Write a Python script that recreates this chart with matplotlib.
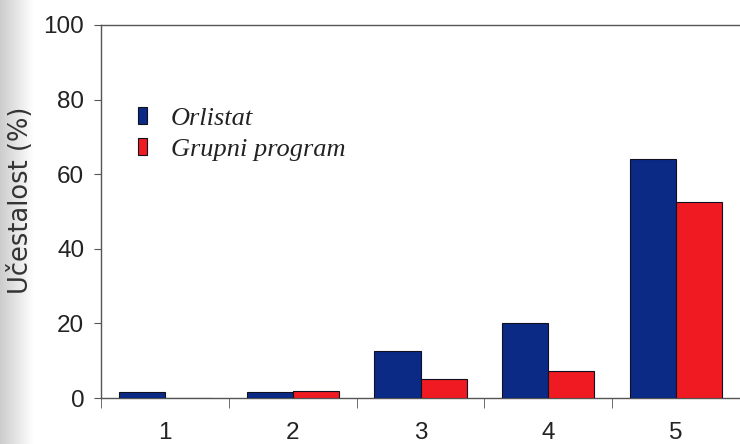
import numpy as np
import matplotlib
matplotlib.use('Agg')
import matplotlib.pyplot as plt

# data
categories = ['1', '2', '3', '4', '5']
orlistat = [1.5, 1.5, 12.5, 20.0, 64.0]
grupni = [0.0, 2.0, 5.0, 7.2, 52.5]
series_names = ['Orlistat', 'Grupni program']
yticks = [0, 20, 40, 60, 80, 100]

blue = '#0b2a86'
red = '#f01a22'
axis_col = '#555555'

plt.rcParams['font.family'] = ['Liberation Sans', 'DejaVu Sans']

fig = plt.figure(figsize=(7.4, 4.44), dpi=100)

# faint scanner shadow along the left edge
shade = fig.add_axes([0, 0, 0.045, 1])
grad = np.linspace(0.80, 1.0, 64)[None, :]
shade.imshow(grad, cmap='gray', vmin=0, vmax=1, aspect='auto', extent=[0, 1, 0, 1])
shade.axis('off')

ax = fig.add_axes([0.1365, 0.1036, 0.8635, 0.8401])

x = np.arange(len(categories))
w = 0.36
ax.bar(x - w / 2, orlistat, w, color=blue, edgecolor='#101020', linewidth=0.8,
       label=series_names[0], zorder=3)
ax.bar(x + w / 2, grupni, w, color=red, edgecolor='#101020', linewidth=0.8,
       label=series_names[1], zorder=3)

ax.set_xlim(-0.5, len(categories) - 0.5)
ax.set_ylim(0, 100)
ax.set_yticks(yticks)
ax.set_xticks(x)
ax.set_xticklabels(categories)
ax.set_xticks(np.arange(-0.5, len(categories)), minor=True)
ax.tick_params(axis='x', which='major', length=0, pad=17, labelsize=17.5, labelcolor='#222222')
ax.tick_params(axis='x', which='minor', length=7, direction='out', color=axis_col)
ax.tick_params(axis='y', length=5, direction='out', pad=7, labelsize=17.5,
               color=axis_col, labelcolor='#222222')

for s in ['left', 'top', 'bottom']:
    ax.spines[s].set_color(axis_col)
    ax.spines[s].set_linewidth(1.0)
ax.spines['right'].set_visible(False)

ax.set_ylabel('Učestalost (%)', fontsize=18.5, color='#333333',
              family=['DejaVu Sans'])
ax.yaxis.set_label_coords(-0.105, 0.53)

leg = ax.legend(loc='upper left', bbox_to_anchor=(0.058, 0.78), frameon=False,
                handlelength=0.33, handleheight=0.6, handletextpad=0.9,
                labelspacing=0.32, borderaxespad=0, borderpad=0,
                prop={'family': 'Liberation Serif', 'style': 'italic', 'size': 19})
for t in leg.get_texts():
    t.set_color('#222222')

fig.savefig('out.png', dpi=100)
